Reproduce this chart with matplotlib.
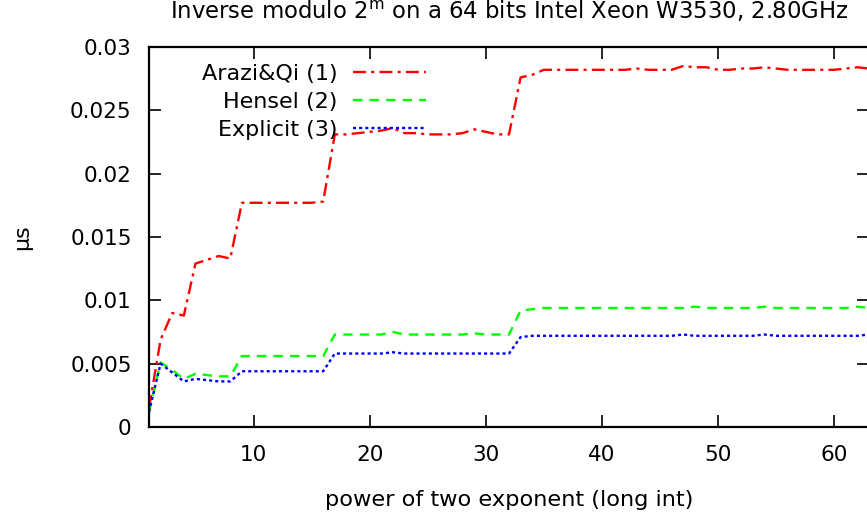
import matplotlib
matplotlib.use('Agg')
import matplotlib.pyplot as plt

# exposants 1..63
exponent = list(range(1, 64))

arazi_qi = [0.0015, 0.0069, 0.0090, 0.0088, 0.0129, 0.0132, 0.0135, 0.0133,
            0.0177, 0.0177, 0.0177, 0.0177, 0.0177, 0.0177, 0.0177, 0.0178,
            0.0231, 0.0231, 0.0232, 0.0233, 0.0234, 0.0236, 0.0232, 0.0232,
            0.0231, 0.0231, 0.0231, 0.0232, 0.0235, 0.0233, 0.0231, 0.0231,
            0.0276, 0.0278, 0.0282, 0.0282, 0.0282, 0.0282, 0.0282, 0.0282,
            0.0282, 0.0282, 0.0283, 0.0282, 0.0282, 0.0282, 0.0285, 0.0284,
            0.0284, 0.0282, 0.0282, 0.0283, 0.0283, 0.0284, 0.0283, 0.0282,
            0.0282, 0.0282, 0.0282, 0.0282, 0.0283, 0.0284, 0.0283]

hensel = [0.0012, 0.0051, 0.0045, 0.0038, 0.0042, 0.0041, 0.0040, 0.0040,
          0.0056, 0.0056, 0.0056, 0.0056, 0.0056, 0.0056, 0.0056, 0.0056,
          0.0073, 0.0073, 0.0073, 0.0073, 0.0073, 0.0075, 0.0073, 0.0073,
          0.0073, 0.0073, 0.0073, 0.0073, 0.0074, 0.0073, 0.0073, 0.0073,
          0.0092, 0.0093, 0.0094, 0.0094, 0.0094, 0.0094, 0.0094, 0.0094,
          0.0094, 0.0094, 0.0094, 0.0094, 0.0094, 0.0094, 0.0094, 0.0095,
          0.0094, 0.0094, 0.0094, 0.0094, 0.0094, 0.0095, 0.0094, 0.0094,
          0.0094, 0.0094, 0.0094, 0.0094, 0.0094, 0.0095, 0.0094]

explicit = [0.0012, 0.0050, 0.0043, 0.0036, 0.0038, 0.0037, 0.0036, 0.0036,
            0.0044, 0.0044, 0.0044, 0.0044, 0.0044, 0.0044, 0.0044, 0.0044,
            0.0058, 0.0058, 0.0058, 0.0058, 0.0058, 0.0059, 0.0058, 0.0058,
            0.0058, 0.0058, 0.0058, 0.0058, 0.0058, 0.0058, 0.0058, 0.0058,
            0.0071, 0.0072, 0.0072, 0.0072, 0.0072, 0.0072, 0.0072, 0.0072,
            0.0072, 0.0072, 0.0072, 0.0072, 0.0072, 0.0072, 0.0073, 0.0072,
            0.0072, 0.0072, 0.0072, 0.0072, 0.0072, 0.0073, 0.0072, 0.0072,
            0.0072, 0.0072, 0.0072, 0.0072, 0.0072, 0.0072, 0.0073]

y_ticks = [0, 0.005, 0.01, 0.015, 0.02, 0.025, 0.03]
y_tick_labels = ['0', '0.005', '0.01', '0.015', '0.02', '0.025', '0.03']
x_ticks = [10, 20, 30, 40, 50, 60]

plt.rcParams['font.family'] = ['DejaVu Sans']
plt.rcParams['mathtext.fontset'] = 'dejavusans'

W, H = 867, 519
fig = plt.figure(figsize=(W / 100, H / 100), dpi=100)
# le cadre droit sort de l'image (comme dans l'original)
ax = fig.add_axes([149 / W, 1 - 427 / H, 720 / W, 380 / H])

ax.plot(exponent, arazi_qi, color='#ff0000', lw=1.7, dashes=(5.5, 2.2, 1.3, 2.2), label='Arazi&Qi (1)')
ax.plot(exponent, hensel, color='#00ff00', lw=1.7, dashes=(4, 3), label='Hensel (2)')
ax.plot(exponent, explicit, color='#0000ff', lw=1.7, dashes=(1.3, 1.3), label='Explicit (3)')

ax.set_xlim(1, 63)
ax.set_ylim(0, 0.03)
ax.set_xticks(x_ticks)
ax.set_yticks(y_ticks)
ax.set_yticklabels(y_tick_labels)
ax.tick_params(direction='in', length=8.5, width=1.2, labelsize=15.5,
               top=True, right=True)
ax.tick_params(axis='y', pad=12.5)
ax.tick_params(axis='x', pad=13)
for s in ax.spines.values():
    s.set_linewidth(1.6)

fig.text(509 / W, 1 - 18.5 / H, r'Inverse modulo 2$^{\mathrm{m}}$ on a 64 bits Intel Xeon W3530, 2.80GHz',
         ha='center', va='baseline', fontsize=16.4)
fig.text(22 / W, 1 - 237 / H, 'µs', rotation=90, ha='center', va='center', fontsize=16)
fig.text(509 / W, 1 - 506 / H, 'power of two exponent (long int)', ha='center', va='baseline', fontsize=16.2)

ax.legend(loc='upper right', bbox_to_anchor=(426 / W, 1 - 64 / H), bbox_transform=fig.transFigure,
          frameon=False, markerfirst=False, fontsize=16, handlelength=3.3, handletextpad=0.68,
          labelspacing=0.35, borderpad=0, borderaxespad=0)

fig.savefig('out.png', dpi=100)
